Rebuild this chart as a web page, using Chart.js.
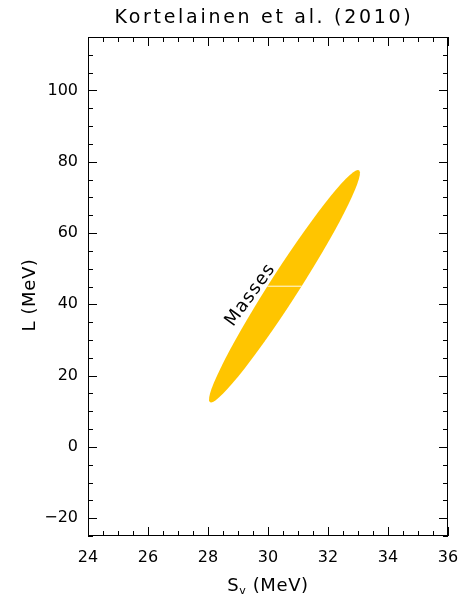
<!DOCTYPE html>
<html>
<head>
<meta charset="utf-8">
<script src="https://cdn.jsdelivr.net/npm/chart.js@4.4.1/dist/chart.umd.min.js"></script>
<style>
  html, body { margin: 0; padding: 0; background: #fff; }
  #grafico { width: 459px; height: 597px; }
</style>
</head>
<body>
<div id="grafico"><canvas id="lienzo" width="459" height="597"></canvas></div>
<script>
// Elipse (Sv, L) de Kortelainen et al. (2010)
const titulo = "Kortelainen et al. (2010)";
const rangoSv = [24, 36];
const rangoL = [-25, 115];
const ticksSv = [24, 26, 28, 30, 32, 34, 36];
const ticksL = [-20, 0, 20, 40, 60, 80, 100];

// centro de la elipse (MeV)
const centro = [30.55, 45.08];
// semidiámetros conjugados: media cuerda horizontal y punto más alto
const semiHorizontal = [0.57, 0];
const semiSuperior = [2.45, 32.6];
// cuerda blanca a la altura del centro
const lineaSv = [29.98, 31.12];
const lineaL = [45.08, 45.08];
// etiqueta sobre el borde izquierdo
const etiqueta = "Masses";
const posEtiqueta = [29.42, 42.6];

const colorElipse = "rgb(255, 197, 0)";
const fuente = "'DejaVu Sans', sans-serif";

const marco = {
    id: "marco",
    beforeDatasetsDraw(chart) {
        const { ctx, scales: { x, y } } = chart;
        const cx = x.getPixelForValue(centro[0]);
        const cy = y.getPixelForValue(centro[1]);
        const ux = x.getPixelForValue(centro[0] + semiHorizontal[0]) - cx;
        const uy = y.getPixelForValue(centro[1] + semiHorizontal[1]) - cy;
        const vx = x.getPixelForValue(centro[0] + semiSuperior[0]) - cx;
        const vy = y.getPixelForValue(centro[1] + semiSuperior[1]) - cy;

        ctx.save();
        ctx.transform(ux, uy, vx, vy, cx, cy);
        ctx.beginPath();
        ctx.arc(0, 0, 1, 0, 2 * Math.PI);
        ctx.restore();
        ctx.fillStyle = colorElipse;
        ctx.fill();
    },
    afterDraw(chart) {
        const { ctx, chartArea: a, scales: { x, y } } = chart;
        ctx.save();
        ctx.strokeStyle = "#000";
        ctx.lineWidth = 1;
        ctx.strokeRect(a.left + 0.5, a.top + 0.5, a.right - a.left - 1, a.bottom - a.top - 1);

        // marcas hacia dentro en los cuatro lados
        ctx.beginPath();
        for (let v = rangoSv[0]; v <= rangoSv[1]; v += 0.5) {
            const px = Math.round(x.getPixelForValue(v)) + 0.5;
            const largo = v % 2 === 0 ? 9 : 5;
            ctx.moveTo(px, a.bottom); ctx.lineTo(px, a.bottom - largo);
            ctx.moveTo(px, a.top); ctx.lineTo(px, a.top + largo);
        }
        for (let v = -25; v <= 115; v += 5) {
            const py = Math.round(y.getPixelForValue(v)) + 0.5;
            const largo = v % 20 === 0 ? 9 : 5;
            ctx.moveTo(a.left, py); ctx.lineTo(a.left + largo, py);
            ctx.moveTo(a.right, py); ctx.lineTo(a.right - largo, py);
        }
        ctx.stroke();

        ctx.fillStyle = "#000";
        ctx.textBaseline = "alphabetic";

        // título
        ctx.font = "19px " + fuente;
        ctx.letterSpacing = "2.7px";
        ctx.textAlign = "center";
        ctx.fillText(titulo, 264, 23);
        ctx.letterSpacing = "0px";

        // eje x: S con subíndice v
        ctx.font = "18px " + fuente;
        ctx.letterSpacing = "0.6px";
        const xc = (a.left + a.right) / 2;
        const wS = ctx.measureText("S").width;
        const resto = " (MeV)";
        const wR = ctx.measureText(resto).width;
        ctx.font = "11px " + fuente;
        const wv = ctx.measureText("v").width;
        const x0 = xc - (wS + wv + wR) / 2;
        ctx.textAlign = "left";
        ctx.font = "18px " + fuente;
        ctx.fillText("S", x0, 591);
        ctx.font = "11px " + fuente;
        ctx.fillText("v", x0 + wS, 594);
        ctx.font = "18px " + fuente;
        ctx.fillText(resto, x0 + wS + wv, 591);

        // eje y
        ctx.save();
        ctx.translate(35, 295);
        ctx.rotate(-Math.PI / 2);
        ctx.textAlign = "center";
        ctx.fillText("L (MeV)", 0, 0);
        ctx.restore();

        // etiqueta inclinada
        ctx.save();
        ctx.translate(x.getPixelForValue(posEtiqueta[0]), y.getPixelForValue(posEtiqueta[1]));
        ctx.rotate(-54 * Math.PI / 180);
        ctx.font = "18px " + fuente;
        ctx.letterSpacing = "1.2px";
        ctx.textAlign = "center";
        ctx.textBaseline = "middle";
        ctx.fillText(etiqueta, 0, 0);
        ctx.restore();

        ctx.restore();
    }
};

const conMenos = v => String(v).replace("-", "\u2212");

new Chart(document.getElementById("lienzo"), {
    type: "line",
    data: {
        datasets: [{
            data: lineaSv.map((v, i) => ({ x: v, y: lineaL[i] })),
            borderColor: "#fffbe8",
            borderWidth: 1,
            pointRadius: 0,
            fill: false
        }]
    },
    options: {
        responsive: false,
        animation: false,
        layout: { padding: { top: 37, right: 11, bottom: 0, left: 0 } },
        plugins: {
            legend: { display: false },
            tooltip: { enabled: false }
        },
        scales: {
            x: {
                type: "linear",
                min: rangoSv[0],
                max: rangoSv[1],
                afterBuildTicks: s => { s.ticks = ticksSv.map(v => ({ value: v })); },
                afterFit: s => { s.height = 61; s.paddingLeft = 0; s.paddingRight = 0; },
                grid: { display: false, drawTicks: false },
                border: { display: false },
                ticks: { color: "#000", padding: 12, font: { family: fuente, size: 16 } }
            },
            y: {
                type: "linear",
                min: rangoL[0],
                max: rangoL[1],
                afterBuildTicks: s => { s.ticks = ticksL.map(v => ({ value: v })); },
                afterFit: s => { s.width = 88; s.paddingTop = 0; s.paddingBottom = 0; },
                grid: { display: false, drawTicks: false },
                border: { display: false },
                ticks: { color: "#000", padding: 10, callback: conMenos, font: { family: fuente, size: 16 } }
            }
        }
    },
    plugins: [marco]
});
</script>
</body>
</html>
